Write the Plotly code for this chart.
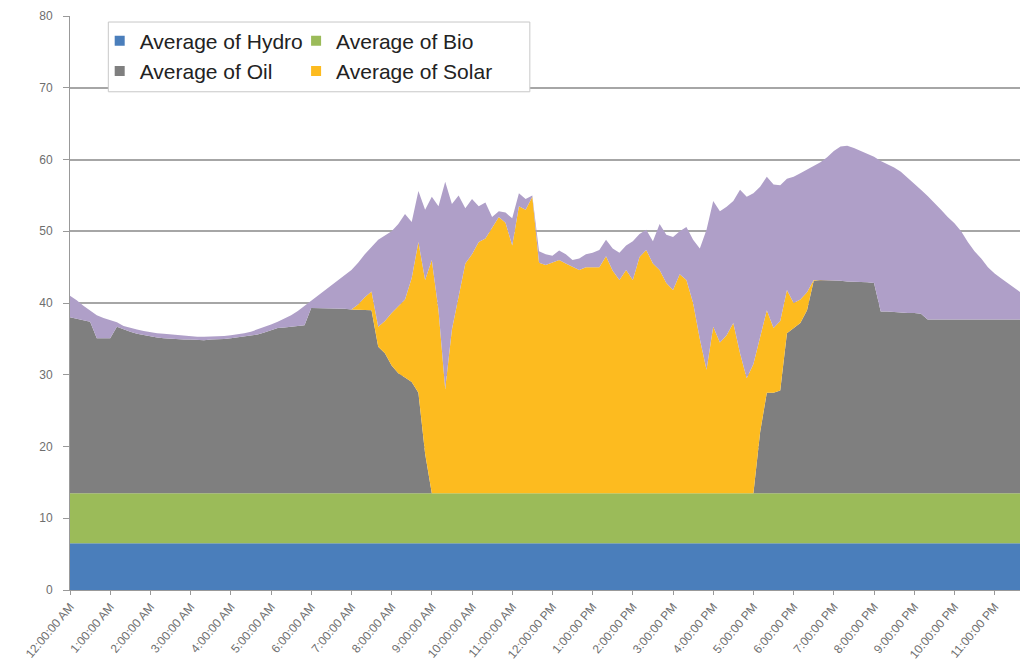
import numpy as np
import plotly.graph_objects as go

# ---------------- data ----------------
tick_labels = [
    "12:00:00 AM", "1:00:00 AM", "2:00:00 AM", "3:00:00 AM", "4:00:00 AM", "5:00:00 AM",
    "6:00:00 AM", "7:00:00 AM", "8:00:00 AM", "9:00:00 AM", "10:00:00 AM", "11:00:00 AM",
    "12:00:00 PM", "1:00:00 PM", "2:00:00 PM", "3:00:00 PM", "4:00:00 PM", "5:00:00 PM",
    "6:00:00 PM", "7:00:00 PM", "8:00:00 PM", "9:00:00 PM", "10:00:00 PM", "11:00:00 PM",
]

# hourly readings of the flat bottom series (each hour = 6 ten-minute samples)
hydro_hourly = [6.5, 6.5, 6.5, 6.6, 6.6, 6.5, 6.5, 6.5, 6.6, 6.6, 6.5, 6.5,
                6.5, 6.5, 6.5, 6.5, 6.5, 6.5, 6.5, 6.5, 6.5, 6.5, 6.5, 6.5]
bio_hourly = [7.0, 7.0, 7.0, 6.9, 6.9, 7.0, 7.0, 7.0, 6.9, 6.9, 7.0, 7.0,
              7.0, 7.0, 7.0, 7.0, 7.0, 7.0, 7.0, 7.0, 7.0, 7.0, 7.0, 7.0]

# stacked level of the top of the Oil layer, every 10 minutes from 0:00
oil_level = [
    38.0, 37.8, 37.6, 37.4, 35.1, 35.1, 35.1, 36.7, 36.3, 36.0,
    35.7, 35.5, 35.3, 35.2, 35.1, 35.0, 34.9, 34.9, 34.9, 34.8,
    34.8, 34.9, 34.9, 35.0, 35.1, 35.2, 35.3, 35.5, 35.6, 35.9,
    36.2, 36.5, 36.6, 36.7, 36.8, 36.9, 39.3, 39.3, 39.3, 39.2,
    39.2, 39.2, 39.1, 39.1, 39.0, 39.0, 33.9, 33.0, 31.3, 30.2,
    29.6, 29.0, 27.5, 19.0, 13.5, 13.5, 13.5, 13.5, 13.5, 13.5,
    13.5, 13.5, 13.5, 13.5, 13.5, 13.5, 13.5, 13.5, 13.5, 13.5,
    13.5, 13.5, 13.5, 13.5, 13.5, 13.5, 13.5, 13.5, 13.5, 13.5,
    13.5, 13.5, 13.5, 13.5, 13.5, 13.5, 13.5, 13.5, 13.5, 13.5,
    13.5, 13.5, 13.5, 13.5, 13.5, 13.5, 13.5, 13.5, 13.5, 13.5,
    13.5, 13.5, 13.5, 22.0, 27.5, 27.5, 27.8, 35.8, 36.5, 37.2,
    39.0, 43.1, 43.2, 43.2, 43.1, 43.1, 43.0, 43.0, 42.9, 42.9,
    42.8, 38.8, 38.8, 38.7, 38.7, 38.6, 38.6, 38.5, 37.7, 37.7,
    37.7, 37.6, 37.6, 37.6, 37.6, 37.7, 37.7, 37.7, 37.7, 37.6,
    37.6, 37.6, 37.7, 37.7,
]

# stacked level of the top of the Solar layer, 7:10 AM .. 6:30 PM
solar_level_day = [
    39.8, 40.8, 41.6, 36.7, 37.5, 38.6, 39.5, 40.5, 43.5, 48.5,
    43.2, 46.0, 39.0, 28.0, 36.3, 41.0, 45.5, 46.8, 48.5, 49.0,
    50.5, 52.0, 51.2, 48.0, 53.5, 53.0, 54.8, 45.6, 45.3, 45.6,
    46.0, 45.5, 45.0, 44.6, 45.0, 45.0, 45.0, 46.5, 44.5, 43.2,
    44.6, 43.2, 46.4, 47.4, 45.5, 44.6, 42.8, 41.8, 44.0, 43.2,
    40.0, 35.0, 30.7, 36.7, 34.5, 35.5, 37.2, 33.0, 29.5, 31.5,
    35.3, 39.0, 36.5, 37.5, 41.8, 40.0, 40.5, 41.5, 43.2,
]
solar_start = 43  # index of 7:10 AM

# stacked total (top of the purple layer), every 10 minutes
total_level = [
    41.0, 40.4, 39.6, 38.9, 38.3, 37.9, 37.6, 37.3, 36.8, 36.5,
    36.3, 36.1, 35.9, 35.8, 35.7, 35.6, 35.5, 35.4, 35.3, 35.3,
    35.3, 35.3, 35.3, 35.4, 35.5, 35.6, 35.8, 36.0, 36.3, 36.6,
    37.0, 37.4, 37.8, 38.3, 38.9, 39.6, 40.3, 41.0, 41.8, 42.5,
    43.2, 43.9, 44.6, 45.6, 46.8, 47.8, 48.8, 49.4, 50.0, 51.0,
    52.4, 51.3, 55.6, 53.0, 54.8, 53.5, 56.9, 53.8, 55.0, 53.2,
    54.5, 53.5, 54.0, 52.0, 52.8, 52.6, 51.8, 55.3, 54.5, 55.0,
    47.2, 46.8, 46.6, 47.3, 46.8, 46.0, 46.2, 46.8, 47.0, 47.4,
    48.8, 47.6, 47.0, 48.0, 48.6, 49.6, 50.2, 48.6, 51.0, 49.5,
    49.2, 50.0, 50.6, 48.8, 47.6, 50.2, 54.2, 52.8, 53.4, 54.2,
    55.8, 54.8, 55.3, 56.2, 57.6, 56.5, 56.4, 57.3, 57.6, 58.1,
    58.6, 59.2, 59.6, 60.3, 61.2, 61.8, 61.9, 61.6, 61.2, 60.8,
    60.4, 59.8, 59.4, 58.9, 58.3, 57.5, 56.7, 55.8, 54.9, 54.0,
    53.0, 52.0, 51.1, 50.0, 48.5, 47.2, 46.2, 45.0, 44.1, 43.4,
    42.7, 42.0, 41.4, 40.9,
]

# ---------------- derive the stacked series ----------------
n = len(total_level)
hours = np.arange(n) / 6.0
hydro = np.repeat(hydro_hourly, 6)[:n]
bio = np.repeat(bio_hourly, 6)[:n]
oil_top = np.array(oil_level)
solar_top = oil_top.copy()
solar_top[solar_start:solar_start + len(solar_level_day)] = solar_level_day
solar_top = np.maximum(solar_top, oil_top)
total = np.maximum(np.array(total_level), solar_top)

oil = oil_top - (hydro + bio)
solar = solar_top - oil_top
wind = total - solar_top

colors = {
    "hydro": "#4A7EBB",
    "bio": "#9BBB59",
    "oil": "#7F7F7F",
    "solar": "#FDBB1F",
    "wind": "#AF9FC8",
}

fig = go.Figure()

def add_area(y, name, color):
    fig.add_trace(go.Scatter(
        x=hours, y=y, name=name, mode="lines",
        stackgroup="one", line=dict(width=0, color=color),
        fillcolor=color, showlegend=False,
        hoverinfo="x+y+name",
    ))

add_area(hydro, "Average of Hydro", colors["hydro"])
add_area(bio, "Average of Bio", colors["bio"])
add_area(oil, "Average of Oil", colors["oil"])
add_area(solar, "Average of Solar", colors["solar"])
add_area(wind, "Average of Wind", colors["wind"])

# legend keys (square swatches like the reference)
def add_key(name, color, legend):
    fig.add_trace(go.Scatter(
        x=[None], y=[None], name=name, mode="markers",
        marker=dict(symbol="square", size=10, color=color),
        legend=legend, showlegend=True, hoverinfo="skip",
    ))

add_key("Average of Hydro", colors["hydro"], "legend")
add_key("Average of Oil", colors["oil"], "legend")
add_key("Average of Bio", colors["bio"], "legend2")
add_key("Average of Solar", colors["solar"], "legend2")

legend_font = dict(family="Liberation Sans, Arial, sans-serif", size=21, color="#222222")
tick_font = dict(family="Liberation Sans, Arial, sans-serif", size=12, color="#6E6E6E")

# page body has an 8px margin: figure sized so plot area spans x 70..1028, y 16..590
fig.update_layout(
    width=1020, height=658,
    margin=dict(l=62, r=0, t=8, b=76),
    paper_bgcolor="white", plot_bgcolor="white",
    showlegend=True,
    legend=dict(x=0.031, y=0.992, xanchor="left", yanchor="top",
                bgcolor="rgba(0,0,0,0)", font=legend_font,
                tracegroupgap=0, itemwidth=30, traceorder="normal"),
    legend2=dict(x=0.236, y=0.992, xanchor="left", yanchor="top",
                 bgcolor="rgba(0,0,0,0)", font=legend_font,
                 tracegroupgap=0, itemwidth=30, traceorder="normal"),
    xaxis=dict(
        range=[0, 23.83],
        tickmode="array",
        tickvals=list(range(24)),
        ticktext=tick_labels,
        tickangle=-50,
        tickfont=tick_font,
        ticks="outside", ticklen=4, tickcolor="#999999",
        showgrid=False, zeroline=False,
        showline=True, linecolor="#999999", linewidth=1,
    ),
    yaxis=dict(
        range=[0, 80],
        tickmode="array",
        tickvals=[0, 10, 20, 30, 40, 50, 60, 70, 80],
        tickfont=tick_font,
        ticks="outside", ticklen=6, tickcolor="#999999",
        ticklabelstandoff=8,
        showgrid=True, gridcolor="#A6A6A6", gridwidth=1.5,
        zeroline=False,
        showline=True, linecolor="#999999", linewidth=1,
    ),
    shapes=[dict(
        type="rect", xref="paper", yref="paper",
        x0=0.040, x1=0.480, y0=0.868, y1=0.9895,
        fillcolor="white", line=dict(color="#C8C8C8", width=1),
        layer="above",
    )],
)

fig.write_html("out.html")
